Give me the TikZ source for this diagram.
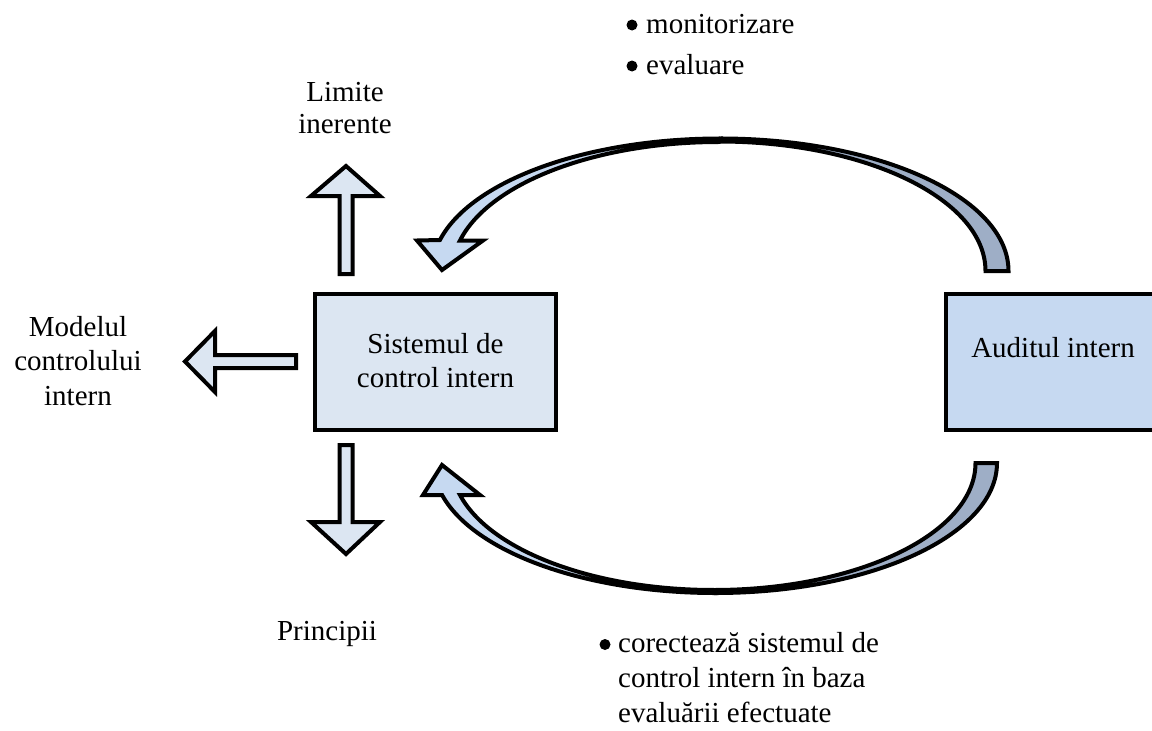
\documentclass[tikz,border=0pt]{standalone}
\usepackage{fontspec}
\setmainfont{Liberation Serif}
\definecolor{boxlight}{HTML}{DCE6F2}
\definecolor{boxblue}{HTML}{C6D9F1}
\definecolor{ribbonback}{HTML}{9EAEC6}
\newcommand{\stacklines}[1]{\begin{tabular}[t]{@{}c@{}}#1\end{tabular}}
\newcommand{\leftlines}[1]{\begin{tabular}[t]{@{}l@{}}#1\end{tabular}}
\begin{document}
\begin{tikzpicture}[x=1pt,y=-1pt,
  outline/.style={draw=black,line width=4pt,line join=miter,miter limit=4},
  boxframe/.style={outline,line width=4.5pt},
  blockarrow/.style={outline,fill=boxlight},
  label/.style={inner sep=0pt,anchor=base},
  listlabel/.style={inner sep=0pt,anchor=base west},
  dot/.style={fill=black}]

\path[use as bounding box] (0,0) rectangle (1152,731);

% the two boxes
\draw[boxframe,fill=boxlight] (315,294) rectangle (556,430);
\draw[boxframe,fill=boxblue] (946,294) rectangle (1156,430);
\node[label,font=\fontsize{29}{34}\selectfont] (sys) at (435.5,353)
  {\stacklines{Sistemul de\\control intern}};
\node[label,font=\fontsize{29}{34}\selectfont] (aud) at (1053,357) {Auditul intern};

% straight block arrows leaving the control system
\draw[blockarrow] (339.5,274) -- (339.5,196) -- (311,196) -- (346,166)
  -- (380,196) -- (352.5,196) -- (352.5,274) -- cycle;
\draw[blockarrow] (339.5,445) -- (352.5,445) -- (352.5,522) -- (380,522)
  -- (346,554) -- (311,522) -- (339.5,522) -- cycle;
\draw[blockarrow] (296,355) -- (215,355) -- (215,331) -- (185,361.5)
  -- (215,392) -- (215,368) -- (296,368) -- cycle;

% upper curved arrow: back half of the ribbon, then the front half with its head
\draw[outline,fill=ribbonback] (1008.5,271)
  arc[start angle=0,end angle=-90,x radius=288.3,y radius=132.5]
  -- (718.9,141.5)
  arc[start angle=-90,end angle=0,x radius=266.6,y radius=129.5] -- cycle;
\draw[outline,fill=boxblue] (720.2,138.5)
  arc[start angle=-90,end angle=-166.47,x radius=288.3,y radius=132.5]
  -- (417,240.5) -- (442,270) -- (483,240.5) -- (460,240.5)
  arc[start angle=-166.15,end angle=-90,x radius=266.6,y radius=129.5] -- cycle;

% lower curved arrow
\draw[outline,fill=ribbonback] (997,463)
  arc[start angle=0,end angle=90,x radius=281.8,y radius=130]
  -- (713.5,590)
  arc[start angle=90,end angle=0,x radius=262,y radius=127] -- cycle;
\draw[outline,fill=boxblue] (715.2,593)
  arc[start angle=90,end angle=165.75,x radius=281.8,y radius=130]
  -- (423,495) -- (442,465) -- (480,495) -- (460,495)
  arc[start angle=165.4,end angle=90,x radius=262,y radius=127] -- cycle;

% labels around the control system
\node[label,font=\fontsize{29}{32}\selectfont] (lim) at (345,101)
  {\stacklines{Limite\\inerente}};
\node[label,font=\fontsize{29}{34.5}\selectfont] (mod) at (78,336)
  {\stacklines{Modelul\\controlului\\intern}};
\node[label,font=\fontsize{29}{34}\selectfont] (pri) at (327,640) {Principii};

% bulleted notes on what the internal audit does
\node[listlabel,font=\fontsize{29}{41}\selectfont] (mon) at (646,33)
  {\leftlines{monitorizare\\evaluare}};
\fill[dot] ([shift={(-14,-8)}]mon.base west) circle[radius=5.5];
\fill[dot] ([shift={(-14,33)}]mon.base west) circle[radius=5.5];
\node[listlabel,font=\fontsize{29}{35}\selectfont] (cor) at (618,652)
  {\leftlines{corectează sistemul de\\control intern în baza\\evaluării efectuate}};
\fill[dot] ([shift={(-13,-7.5)}]cor.base west) circle[radius=5.5];
\end{tikzpicture}
\end{document}
